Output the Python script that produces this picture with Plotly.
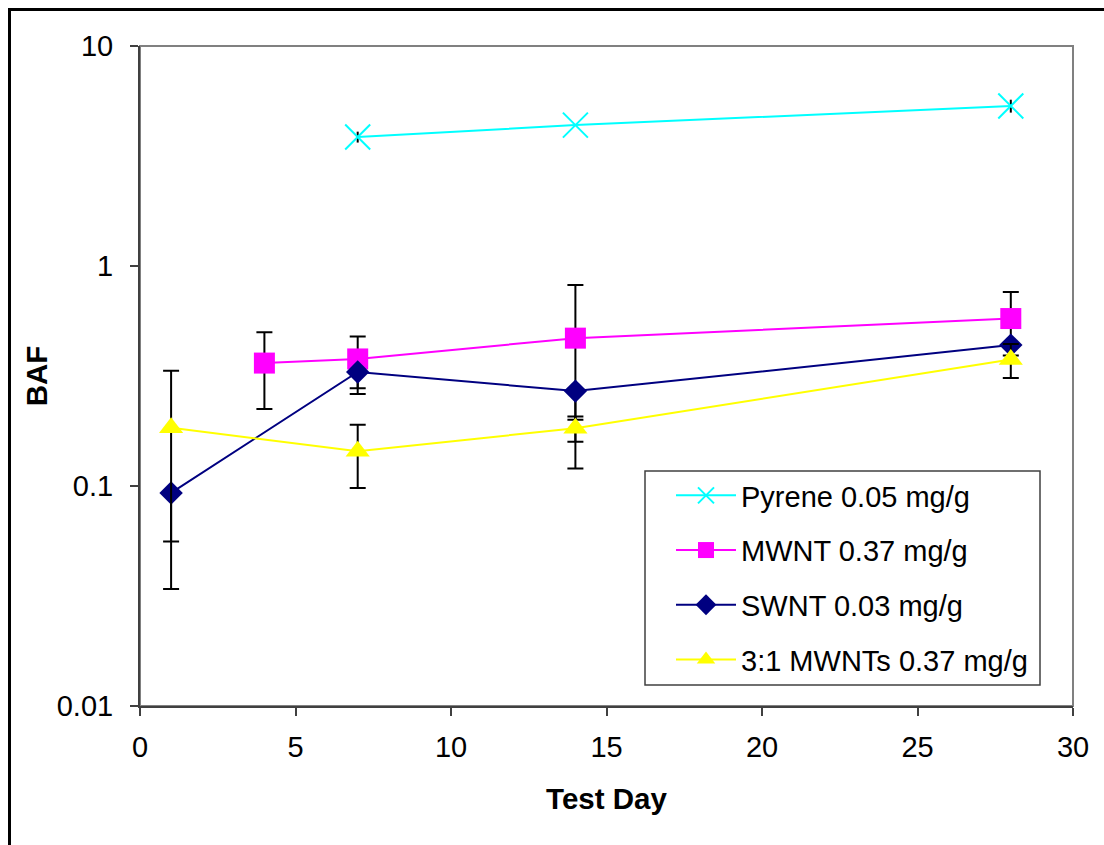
import plotly.graph_objects as go

# ---- data ----
days_pyrene = [7, 14, 28]
baf_pyrene = [3.86, 4.37, 5.34]
err_pyrene = [0.22, 0.0, 0.36]

days_mwnt = [4, 7, 14, 28]
baf_mwnt = [0.362, 0.378, 0.47, 0.577]
err_mwnt = [0.138, 0.10, 0.35, 0.185]

days_swnt = [1, 7, 14, 28]
baf_swnt = [0.093, 0.33, 0.27, 0.437]
err_swnt_plus = [0.0, 0.0, 0.0, 0.0]
err_swnt_minus = [0.037, 0.068, 0.07, 0.0]

days_31 = [1, 7, 14, 28]
baf_31 = [0.184, 0.144, 0.183, 0.376]
err_31 = [0.15, 0.046, 0.024, 0.066]

names = ["Pyrene 0.05 mg/g", "MWNT 0.37 mg/g", "SWNT 0.03 mg/g", "3:1 MWNTs 0.37 mg/g"]
x_ticks = [0, 5, 10, 15, 20, 25, 30]
y_ticks = [0.01, 0.1, 1, 10]
y_ticktext = ["0.01", "0.1", "1", "10"]

FONT = "Liberation Sans, Arial, sans-serif"
W, H = 1104, 845
L, R, T, B = 140, 31, 46, 139
pw, ph = W - L - R, H - T - B

fig = go.Figure()

def eb(arr, arrminus=None, width=8):
    d = dict(type="data", array=arr, color="black", thickness=2, width=width, visible=True)
    if arrminus is not None:
        d["symmetric"] = False
        d["arrayminus"] = arrminus
    return d

fig.add_trace(go.Scatter(
    x=days_pyrene, y=baf_pyrene, name=names[0], mode="lines+markers",
    line=dict(color="#00FFFF", width=2),
    marker=dict(symbol="x-thin", size=25, color="#00FFFF", line=dict(color="#00FFFF", width=2)),
    error_y=eb(err_pyrene, width=0), legendgroup="a"))
fig.add_trace(go.Scatter(
    x=days_mwnt, y=baf_mwnt, name=names[1], mode="lines+markers",
    line=dict(color="#FF00FF", width=2),
    marker=dict(symbol="square", size=21, color="#FF00FF"),
    error_y=eb(err_mwnt), legendgroup="b"))
fig.add_trace(go.Scatter(
    x=days_swnt, y=baf_swnt, name=names[2], mode="lines+markers",
    line=dict(color="#000080", width=2),
    marker=dict(symbol="diamond", size=18, color="#000080"),
    error_y=eb(err_swnt_plus, err_swnt_minus), legendgroup="c"))
fig.add_trace(go.Scatter(
    x=days_31, y=baf_31, name=names[3], mode="lines+markers",
    line=dict(color="#FFFF00", width=2),
    marker=dict(symbol="triangle-up", size=21, color="#FFFF00"),
    error_y=eb(err_31), legendgroup="d"))

def px2paper_x(px):
    return (px - L) / pw

def px2paper_y(py):
    return (H - B - py) / ph

shapes = [
    # outer frame
    dict(type="rect", xref="paper", yref="paper",
         x0=px2paper_x(9.5), x1=px2paper_x(1110), y0=px2paper_y(850), y1=px2paper_y(9.5),
         line=dict(color="black", width=3), layer="below"),
    # plot-area border
    dict(type="rect", xref="paper", yref="paper", x0=0, x1=1, y0=0, y1=1,
         line=dict(color="#808080", width=2), layer="below"),
    # legend box
    dict(type="rect", xref="paper", yref="paper",
         x0=px2paper_x(645), x1=px2paper_x(1040), y0=px2paper_y(685), y1=px2paper_y(471),
         line=dict(color="#404040", width=1.5), fillcolor="white", layer="above"),
]

fig.update_layout(
    width=W, height=H,
    margin=dict(l=L, r=R, t=T, b=B, pad=0),
    paper_bgcolor="white", plot_bgcolor="white",
    font=dict(family=FONT, size=29, color="black"),
    showlegend=True,
    legend=dict(
        x=px2paper_x(671), y=px2paper_y(470), xanchor="left", yanchor="top",
        borderwidth=0, bgcolor="rgba(0,0,0,0)",
        font=dict(family=FONT, size=29, color="black"),
        traceorder="grouped", tracegroupgap=14, itemwidth=60,
    ),
    xaxis=dict(
        range=[0, 30], tickmode="array", tickvals=x_ticks,
        ticks="outside", ticklen=8, tickwidth=1.5, tickcolor="#404040",
        showline=True, linecolor="#404040", linewidth=2, showgrid=False, zeroline=False,
        tickfont=dict(family=FONT, size=29), ticklabelstandoff=6,
        title=dict(text="<b>Test Day</b>", font=dict(family=FONT, size=29.5), standoff=27),
    ),
    yaxis=dict(
        type="log", range=[-2, 1], tickmode="array", tickvals=y_ticks, ticktext=y_ticktext,
        ticks="outside", ticklen=8, tickwidth=1.5, tickcolor="#404040",
        showline=True, linecolor="#404040", linewidth=2, showgrid=False, zeroline=False,
        tickfont=dict(family=FONT, size=29), ticklabelstandoff=11,
        title=dict(text="<b>BAF</b>", font=dict(family=FONT, size=29.5), standoff=0),
    ),
    shapes=shapes,
)

fig.write_html("out.html")
